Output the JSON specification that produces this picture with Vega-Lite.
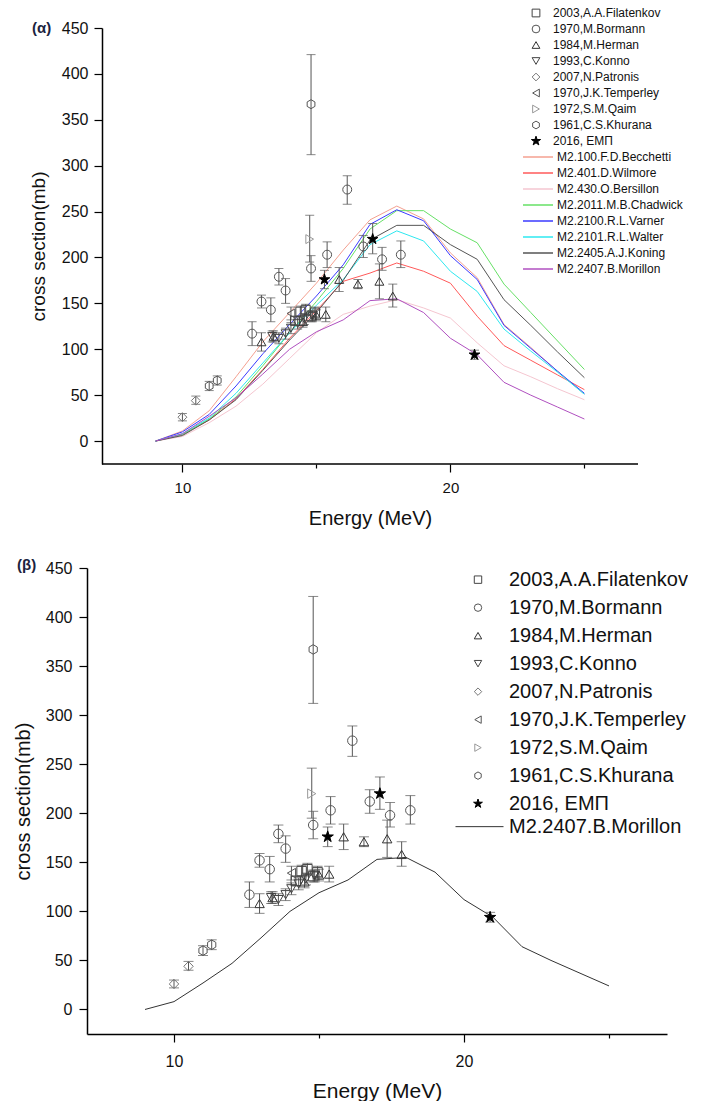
{
  "$schema": "https://vega.github.io/schema/vega-lite/v6.json",
  "padding": {"left": 13, "top": 5, "right": 0, "bottom": 0},
  "config": {
    "font": "Liberation Sans",
    "view": {"stroke": null},
    "axis": {"grid": false, "domainColor": "#000", "domainWidth": 1.5, "tickColor": "#000", "tickWidth": 1.2, "labelColor": "#111", "titleColor": "#111", "titleFontWeight": "normal"},
    "legend": {"padding": 0, "labelLimit": 0}
  },
  "resolve": {"scale": {"color": "independent", "shape": "independent", "fill": "independent", "stroke": "independent"}},
  "spacing": 30,
  "datasets": {
    "exp": [
      {"set": "2003,A.A.Filatenkov", "E": 14.2, "v": 131, "lo": 126, "hi": 136},
      {"set": "2003,A.A.Filatenkov", "E": 14.4, "v": 141, "lo": 135, "hi": 147},
      {"set": "2003,A.A.Filatenkov", "E": 14.6, "v": 143, "lo": 137, "hi": 149},
      {"set": "2003,A.A.Filatenkov", "E": 14.8, "v": 136, "lo": 130, "hi": 142},
      {"set": "2003,A.A.Filatenkov", "E": 14.95, "v": 140, "lo": 134, "hi": 146},
      {"set": "1970,M.Bormann", "E": 12.6, "v": 117, "lo": 104, "hi": 130},
      {"set": "1970,M.Bormann", "E": 12.95, "v": 152, "lo": 145, "hi": 159},
      {"set": "1970,M.Bormann", "E": 13.3, "v": 143, "lo": 130, "hi": 156},
      {"set": "1970,M.Bormann", "E": 13.6, "v": 179, "lo": 170, "hi": 188},
      {"set": "1970,M.Bormann", "E": 13.85, "v": 164, "lo": 150, "hi": 177},
      {"set": "1970,M.Bormann", "E": 14.8, "v": 188, "lo": 174, "hi": 202},
      {"set": "1970,M.Bormann", "E": 15.4, "v": 203, "lo": 189, "hi": 217},
      {"set": "1970,M.Bormann", "E": 16.15, "v": 274, "lo": 258, "hi": 289},
      {"set": "1970,M.Bormann", "E": 16.75, "v": 212, "lo": 200, "hi": 224},
      {"set": "1970,M.Bormann", "E": 17.45, "v": 198, "lo": 186, "hi": 211},
      {"set": "1970,M.Bormann", "E": 18.15, "v": 203, "lo": 189, "hi": 218},
      {"set": "1984,M.Herman", "E": 12.95, "v": 108, "lo": 98, "hi": 118},
      {"set": "1984,M.Herman", "E": 13.4, "v": 114, "lo": 108, "hi": 120},
      {"set": "1984,M.Herman", "E": 14.5, "v": 130, "lo": 124, "hi": 136},
      {"set": "1984,M.Herman", "E": 15.0, "v": 137, "lo": 131, "hi": 143},
      {"set": "1984,M.Herman", "E": 15.35, "v": 138, "lo": 130, "hi": 146},
      {"set": "1984,M.Herman", "E": 15.85, "v": 176, "lo": 163, "hi": 189},
      {"set": "1984,M.Herman", "E": 16.55, "v": 171, "lo": 166, "hi": 176},
      {"set": "1984,M.Herman", "E": 17.35, "v": 174, "lo": 155, "hi": 193},
      {"set": "1984,M.Herman", "E": 17.85, "v": 158, "lo": 146, "hi": 171},
      {"set": "1993,C.Konno", "E": 13.35, "v": 114, "lo": 108, "hi": 120},
      {"set": "1993,C.Konno", "E": 13.6, "v": 112, "lo": 106, "hi": 118},
      {"set": "1993,C.Konno", "E": 13.85, "v": 117, "lo": 111, "hi": 123},
      {"set": "1993,C.Konno", "E": 14.05, "v": 123, "lo": 117, "hi": 129},
      {"set": "1993,C.Konno", "E": 14.3, "v": 128, "lo": 122, "hi": 134},
      {"set": "1993,C.Konno", "E": 14.55, "v": 133, "lo": 127, "hi": 139},
      {"set": "1993,C.Konno", "E": 14.85, "v": 136, "lo": 130, "hi": 142},
      {"set": "2007,N.Patronis", "E": 10.0, "v": 26, "lo": 22, "hi": 30},
      {"set": "2007,N.Patronis", "E": 10.5, "v": 44, "lo": 40, "hi": 49},
      {"set": "1970,J.K.Temperley", "E": 14.05, "v": 139, "lo": 132, "hi": 146},
      {"set": "1972,S.M.Qaim", "E": 14.75, "v": 220, "lo": 195, "hi": 246},
      {"set": "1961,C.S.Khurana", "E": 11.0, "v": 60, "lo": 55, "hi": 65},
      {"set": "1961,C.S.Khurana", "E": 11.3, "v": 66, "lo": 61, "hi": 71},
      {"set": "1961,C.S.Khurana", "E": 14.8, "v": 367, "lo": 312, "hi": 421},
      {"set": "2016, ΕΜΠ", "E": 15.3, "v": 176, "lo": 166, "hi": 186},
      {"set": "2016, ΕΜΠ", "E": 17.1, "v": 220, "lo": 204, "hi": 237},
      {"set": "2016, ΕΜΠ", "E": 20.9, "v": 94, "lo": 89, "hi": 99}
    ],
    "model": [
      {"model": "M2.100.F.D.Becchetti", "E": 9, "v": 0}, {"model": "M2.100.F.D.Becchetti", "E": 10, "v": 11}, {"model": "M2.100.F.D.Becchetti", "E": 11, "v": 33}, {"model": "M2.100.F.D.Becchetti", "E": 12, "v": 70}, {"model": "M2.100.F.D.Becchetti", "E": 13, "v": 108}, {"model": "M2.100.F.D.Becchetti", "E": 14, "v": 140}, {"model": "M2.100.F.D.Becchetti", "E": 15, "v": 172}, {"model": "M2.100.F.D.Becchetti", "E": 16, "v": 208}, {"model": "M2.100.F.D.Becchetti", "E": 17, "v": 241}, {"model": "M2.100.F.D.Becchetti", "E": 18, "v": 256}, {"model": "M2.100.F.D.Becchetti", "E": 19, "v": 242}, {"model": "M2.100.F.D.Becchetti", "E": 20, "v": 205}, {"model": "M2.100.F.D.Becchetti", "E": 21, "v": 178}, {"model": "M2.100.F.D.Becchetti", "E": 22, "v": 127}, {"model": "M2.100.F.D.Becchetti", "E": 23, "v": 102}, {"model": "M2.100.F.D.Becchetti", "E": 24, "v": 76}, {"model": "M2.100.F.D.Becchetti", "E": 25, "v": 51},
      {"model": "M2.401.D.Wilmore", "E": 9, "v": 0}, {"model": "M2.401.D.Wilmore", "E": 10, "v": 7}, {"model": "M2.401.D.Wilmore", "E": 11, "v": 23}, {"model": "M2.401.D.Wilmore", "E": 12, "v": 46}, {"model": "M2.401.D.Wilmore", "E": 13, "v": 78}, {"model": "M2.401.D.Wilmore", "E": 14, "v": 112}, {"model": "M2.401.D.Wilmore", "E": 15, "v": 142}, {"model": "M2.401.D.Wilmore", "E": 16, "v": 174}, {"model": "M2.401.D.Wilmore", "E": 17, "v": 183}, {"model": "M2.401.D.Wilmore", "E": 18, "v": 194}, {"model": "M2.401.D.Wilmore", "E": 19, "v": 185}, {"model": "M2.401.D.Wilmore", "E": 20, "v": 172}, {"model": "M2.401.D.Wilmore", "E": 21, "v": 136}, {"model": "M2.401.D.Wilmore", "E": 22, "v": 104}, {"model": "M2.401.D.Wilmore", "E": 23, "v": 88}, {"model": "M2.401.D.Wilmore", "E": 24, "v": 72}, {"model": "M2.401.D.Wilmore", "E": 25, "v": 56},
      {"model": "M2.430.O.Bersillon", "E": 9, "v": 0}, {"model": "M2.430.O.Bersillon", "E": 10, "v": 5}, {"model": "M2.430.O.Bersillon", "E": 11, "v": 20}, {"model": "M2.430.O.Bersillon", "E": 12, "v": 38}, {"model": "M2.430.O.Bersillon", "E": 13, "v": 62}, {"model": "M2.430.O.Bersillon", "E": 14, "v": 90}, {"model": "M2.430.O.Bersillon", "E": 15, "v": 118}, {"model": "M2.430.O.Bersillon", "E": 16, "v": 138}, {"model": "M2.430.O.Bersillon", "E": 17, "v": 147}, {"model": "M2.430.O.Bersillon", "E": 18, "v": 154}, {"model": "M2.430.O.Bersillon", "E": 19, "v": 145}, {"model": "M2.430.O.Bersillon", "E": 20, "v": 134}, {"model": "M2.430.O.Bersillon", "E": 21, "v": 107}, {"model": "M2.430.O.Bersillon", "E": 22, "v": 82}, {"model": "M2.430.O.Bersillon", "E": 23, "v": 70}, {"model": "M2.430.O.Bersillon", "E": 24, "v": 57}, {"model": "M2.430.O.Bersillon", "E": 25, "v": 45},
      {"model": "M2.2011.M.B.Chadwick", "E": 9, "v": 0}, {"model": "M2.2011.M.B.Chadwick", "E": 10, "v": 7}, {"model": "M2.2011.M.B.Chadwick", "E": 11, "v": 24}, {"model": "M2.2011.M.B.Chadwick", "E": 12, "v": 48}, {"model": "M2.2011.M.B.Chadwick", "E": 13, "v": 82}, {"model": "M2.2011.M.B.Chadwick", "E": 14, "v": 118}, {"model": "M2.2011.M.B.Chadwick", "E": 15, "v": 152}, {"model": "M2.2011.M.B.Chadwick", "E": 16, "v": 188}, {"model": "M2.2011.M.B.Chadwick", "E": 17, "v": 231}, {"model": "M2.2011.M.B.Chadwick", "E": 18, "v": 251}, {"model": "M2.2011.M.B.Chadwick", "E": 19, "v": 251}, {"model": "M2.2011.M.B.Chadwick", "E": 20, "v": 231}, {"model": "M2.2011.M.B.Chadwick", "E": 21, "v": 216}, {"model": "M2.2011.M.B.Chadwick", "E": 22, "v": 171}, {"model": "M2.2011.M.B.Chadwick", "E": 23, "v": 140}, {"model": "M2.2011.M.B.Chadwick", "E": 24, "v": 109}, {"model": "M2.2011.M.B.Chadwick", "E": 25, "v": 78},
      {"model": "M2.2100.R.L.Varner", "E": 9, "v": 0}, {"model": "M2.2100.R.L.Varner", "E": 10, "v": 10}, {"model": "M2.2100.R.L.Varner", "E": 11, "v": 29}, {"model": "M2.2100.R.L.Varner", "E": 12, "v": 60}, {"model": "M2.2100.R.L.Varner", "E": 13, "v": 95}, {"model": "M2.2100.R.L.Varner", "E": 14, "v": 127}, {"model": "M2.2100.R.L.Varner", "E": 15, "v": 158}, {"model": "M2.2100.R.L.Varner", "E": 16, "v": 192}, {"model": "M2.2100.R.L.Varner", "E": 17, "v": 236}, {"model": "M2.2100.R.L.Varner", "E": 18, "v": 252}, {"model": "M2.2100.R.L.Varner", "E": 19, "v": 240}, {"model": "M2.2100.R.L.Varner", "E": 20, "v": 202}, {"model": "M2.2100.R.L.Varner", "E": 21, "v": 176}, {"model": "M2.2100.R.L.Varner", "E": 22, "v": 126}, {"model": "M2.2100.R.L.Varner", "E": 23, "v": 101}, {"model": "M2.2100.R.L.Varner", "E": 24, "v": 76}, {"model": "M2.2100.R.L.Varner", "E": 25, "v": 52},
      {"model": "M2.2101.R.L.Walter", "E": 9, "v": 0}, {"model": "M2.2101.R.L.Walter", "E": 10, "v": 8}, {"model": "M2.2101.R.L.Walter", "E": 11, "v": 25}, {"model": "M2.2101.R.L.Walter", "E": 12, "v": 52}, {"model": "M2.2101.R.L.Walter", "E": 13, "v": 85}, {"model": "M2.2101.R.L.Walter", "E": 14, "v": 118}, {"model": "M2.2101.R.L.Walter", "E": 15, "v": 148}, {"model": "M2.2101.R.L.Walter", "E": 16, "v": 176}, {"model": "M2.2101.R.L.Walter", "E": 17, "v": 214}, {"model": "M2.2101.R.L.Walter", "E": 18, "v": 229}, {"model": "M2.2101.R.L.Walter", "E": 19, "v": 218}, {"model": "M2.2101.R.L.Walter", "E": 20, "v": 185}, {"model": "M2.2101.R.L.Walter", "E": 21, "v": 163}, {"model": "M2.2101.R.L.Walter", "E": 22, "v": 122}, {"model": "M2.2101.R.L.Walter", "E": 23, "v": 98}, {"model": "M2.2101.R.L.Walter", "E": 24, "v": 75}, {"model": "M2.2101.R.L.Walter", "E": 25, "v": 51},
      {"model": "M2.2405.A.J.Koning", "E": 9, "v": 0}, {"model": "M2.2405.A.J.Koning", "E": 10, "v": 6}, {"model": "M2.2405.A.J.Koning", "E": 11, "v": 23}, {"model": "M2.2405.A.J.Koning", "E": 12, "v": 45}, {"model": "M2.2405.A.J.Koning", "E": 13, "v": 77}, {"model": "M2.2405.A.J.Koning", "E": 14, "v": 110}, {"model": "M2.2405.A.J.Koning", "E": 15, "v": 140}, {"model": "M2.2405.A.J.Koning", "E": 16, "v": 175}, {"model": "M2.2405.A.J.Koning", "E": 17, "v": 219}, {"model": "M2.2405.A.J.Koning", "E": 18, "v": 235}, {"model": "M2.2405.A.J.Koning", "E": 19, "v": 235}, {"model": "M2.2405.A.J.Koning", "E": 20, "v": 214}, {"model": "M2.2405.A.J.Koning", "E": 21, "v": 198}, {"model": "M2.2405.A.J.Koning", "E": 22, "v": 154}, {"model": "M2.2405.A.J.Koning", "E": 23, "v": 126}, {"model": "M2.2405.A.J.Koning", "E": 24, "v": 97}, {"model": "M2.2405.A.J.Koning", "E": 25, "v": 69},
      {"model": "M2.2407.B.Morillon", "E": 9, "v": 0}, {"model": "M2.2407.B.Morillon", "E": 10, "v": 8}, {"model": "M2.2407.B.Morillon", "E": 11, "v": 27}, {"model": "M2.2407.B.Morillon", "E": 12, "v": 47}, {"model": "M2.2407.B.Morillon", "E": 13, "v": 73}, {"model": "M2.2407.B.Morillon", "E": 14, "v": 100}, {"model": "M2.2407.B.Morillon", "E": 15, "v": 119}, {"model": "M2.2407.B.Morillon", "E": 16, "v": 132}, {"model": "M2.2407.B.Morillon", "E": 17, "v": 153}, {"model": "M2.2407.B.Morillon", "E": 18, "v": 155}, {"model": "M2.2407.B.Morillon", "E": 19, "v": 140}, {"model": "M2.2407.B.Morillon", "E": 20, "v": 112}, {"model": "M2.2407.B.Morillon", "E": 21, "v": 94}, {"model": "M2.2407.B.Morillon", "E": 22, "v": 64}, {"model": "M2.2407.B.Morillon", "E": 23, "v": 50}, {"model": "M2.2407.B.Morillon", "E": 24, "v": 37}, {"model": "M2.2407.B.Morillon", "E": 25, "v": 24}
    ],
    "frame": [{"E": 7, "E2": 27, "v": -25}]
  },
  "vconcat": [
    {
      "width": 551,
      "height": 436,
      "title": {"text": "(α)", "anchor": "start", "frame": "group", "dx": -55, "dy": 35, "offset": 4, "fontSize": 15, "fontWeight": "bold", "color": "#1b2340"},
      "layer": [
        {
          "data": {"name": "model"},
          "mark": {"type": "line", "strokeWidth": 1},
          "encoding": {
            "x": {"field": "E", "type": "quantitative", "title": "Energy (MeV)", "scale": {"domain": [6.44, 27], "nice": false, "zero": false},
              "axis": {"values": [10, 15, 20, 25], "labelExpr": "datum.value % 10 === 0 ? datum.label : ''", "tickSize": {"condition": {"test": "datum.value % 10 === 0", "value": 8}, "value": 4}, "domain": false, "labelFontSize": 15, "labelPadding": 8, "titleFontSize": 20, "titlePadding": 13, "titleX": 283}},
            "y": {"field": "v", "type": "quantitative", "title": "cross section(mb)", "scale": {"domain": [-25, 450], "nice": false, "zero": false},
              "axis": {"values": [0, 25, 50, 75, 100, 125, 150, 175, 200, 225, 250, 275, 300, 325, 350, 375, 400, 425, 450], "labelExpr": "datum.value % 50 === 0 ? datum.label : ''", "tickSize": {"condition": {"test": "datum.value % 50 === 0", "value": 8}, "value": 4}, "offset": -15, "labelFontSize": 16, "labelPadding": 6, "titleFontSize": 19, "titlePadding": 13}},
            "color": {"field": "model", "type": "nominal",
              "scale": {"domain": ["M2.100.F.D.Becchetti", "M2.401.D.Wilmore", "M2.430.O.Bersillon", "M2.2011.M.B.Chadwick", "M2.2100.R.L.Varner", "M2.2101.R.L.Walter", "M2.2405.A.J.Koning", "M2.2407.B.Morillon"],
                "range": ["#f4a090", "#ff5a5a", "#f5c6d0", "#66e066", "#3a3aff", "#2ee8f0", "#555555", "#b050c0"]},
              "legend": {"orient": "none", "legendX": 435, "legendY": 121, "title": null, "symbolType": "stroke", "symbolSize": 900, "symbolStrokeWidth": 1.5, "labelFontSize": 12, "labelOffset": 3, "clipHeight": 16, "rowPadding": 0, "labelColor": "#111"}}
          }
        },
        {
          "data": {"name": "frame"},
          "mark": {"type": "rule", "color": "#000", "strokeWidth": 1.5},
          "encoding": {
            "x": {"field": "E", "type": "quantitative", "title": "Energy (MeV)"},
            "x2": {"field": "E2"},
            "y": {"field": "v", "type": "quantitative", "title": "cross section(mb)"}
          }
        },
        {
          "data": {"name": "exp"},
          "mark": {"type": "rule", "strokeWidth": 1, "color": "#555555"},
          "encoding": {
            "x": {"field": "E", "type": "quantitative", "title": "Energy (MeV)"},
            "y": {"field": "lo", "type": "quantitative", "title": "cross section(mb)"},
            "y2": {"field": "hi"}
          }
        },
        {
          "data": {"name": "exp"},
          "mark": {"type": "tick", "orient": "horizontal", "size": 9, "thickness": 1, "color": "#555555"},
          "encoding": {
            "x": {"field": "E", "type": "quantitative", "title": "Energy (MeV)"},
            "y": {"field": "hi", "type": "quantitative", "title": "cross section(mb)"}
          }
        },
        {
          "data": {"name": "exp"},
          "mark": {"type": "tick", "orient": "horizontal", "size": 9, "thickness": 1, "color": "#555555"},
          "encoding": {
            "x": {"field": "E", "type": "quantitative", "title": "Energy (MeV)"},
            "y": {"field": "lo", "type": "quantitative", "title": "cross section(mb)"}
          }
        },
        {
          "data": {"name": "exp"},
          "mark": {"type": "point", "filled": true, "size": 80, "strokeWidth": 1, "opacity": 1},
          "encoding": {
            "x": {"field": "E", "type": "quantitative", "title": "Energy (MeV)"},
            "y": {"field": "v", "type": "quantitative", "title": "cross section(mb)"},
            "shape": {"field": "set", "type": "nominal",
              "scale": {"domain": ["2003,A.A.Filatenkov", "1970,M.Bormann", "1984,M.Herman", "1993,C.Konno", "2007,N.Patronis", "1970,J.K.Temperley", "1972,S.M.Qaim", "1961,C.S.Khurana", "2016, ΕΜΠ"],
                "range": ["square", "circle", "triangle-up", "triangle-down", "diamond", "triangle-left", "triangle-right", "M0,-1L0.866,-0.5L0.866,0.5L0,1L-0.866,0.5L-0.866,-0.5Z", "M0,-1.25L0.28,-0.386L1.19,-0.386L0.454,0.148L0.735,1.011L0,0.478L-0.735,1.011L-0.454,0.148L-1.19,-0.386L-0.28,-0.386Z"]},
              "legend": {"orient": "none", "legendX": 443, "legendY": -23, "title": null, "symbolSize": 60, "symbolStrokeWidth": 1, "labelFontSize": 12, "labelOffset": 11, "clipHeight": 16, "rowPadding": 0, "labelColor": "#111"}},
            "fill": {"field": "set", "type": "nominal",
              "scale": {"domain": ["2003,A.A.Filatenkov", "1970,M.Bormann", "1984,M.Herman", "1993,C.Konno", "2007,N.Patronis", "1970,J.K.Temperley", "1972,S.M.Qaim", "1961,C.S.Khurana", "2016, ΕΜΠ"],
                "range": ["transparent", "transparent", "transparent", "transparent", "transparent", "transparent", "transparent", "transparent", "#000000"]},
              "legend": {"orient": "none", "legendX": 443, "legendY": -23, "title": null, "symbolSize": 60, "symbolStrokeWidth": 1, "labelFontSize": 12, "labelOffset": 11, "clipHeight": 16, "rowPadding": 0, "labelColor": "#111"}},
            "stroke": {"field": "set", "type": "nominal",
              "scale": {"domain": ["2003,A.A.Filatenkov", "1970,M.Bormann", "1984,M.Herman", "1993,C.Konno", "2007,N.Patronis", "1970,J.K.Temperley", "1972,S.M.Qaim", "1961,C.S.Khurana", "2016, ΕΜΠ"],
                "range": ["#444444", "#555555", "#333333", "#444444", "#777777", "#555555", "#999999", "#555555", "#000000"]},
              "legend": {"orient": "none", "legendX": 443, "legendY": -23, "title": null, "symbolSize": 60, "symbolStrokeWidth": 1, "labelFontSize": 12, "labelOffset": 11, "clipHeight": 16, "rowPadding": 0, "labelColor": "#111"}}
          }
        }
      ]
    },
    {
      "width": 580,
      "height": 466,
      "title": {"text": "(β)", "anchor": "start", "frame": "group", "dx": -70, "dy": 17, "offset": 4, "fontSize": 15, "fontWeight": "bold", "color": "#1b2340"},
      "layer": [
        {
          "data": {"name": "model"},
          "transform": [{"filter": "datum.model === 'M2.2407.B.Morillon'"}],
          "mark": {"type": "line", "strokeWidth": 1},
          "encoding": {
            "x": {"field": "E", "type": "quantitative", "title": "Energy (MeV)", "scale": {"domain": [7, 27], "nice": false, "zero": false},
              "axis": {"values": [10, 15, 20, 25], "labelExpr": "datum.value % 10 === 0 ? datum.label : ''", "tickSize": {"condition": {"test": "datum.value % 10 === 0", "value": 8}, "value": 4}, "labelFontSize": 16, "labelPadding": 11, "titleFontSize": 21, "titlePadding": 11}},
            "y": {"field": "v", "type": "quantitative", "title": "cross section(mb)", "scale": {"domain": [-25, 450], "nice": false, "zero": false},
              "axis": {"values": [0, 25, 50, 75, 100, 125, 150, 175, 200, 225, 250, 275, 300, 325, 350, 375, 400, 425, 450], "labelExpr": "datum.value % 50 === 0 ? datum.label : ''", "tickSize": {"condition": {"test": "datum.value % 50 === 0", "value": 8}, "value": 4}, "labelFontSize": 16, "labelPadding": 7, "titleFontSize": 20, "titlePadding": 12}},
            "color": {"field": "model", "type": "nominal",
              "scale": {"domain": ["M2.2407.B.Morillon"], "range": ["#333333"]},
              "legend": {"orient": "none", "legendX": 368, "legendY": 245, "title": null, "symbolType": "stroke", "symbolSize": 2304, "symbolStrokeWidth": 1, "labelFontSize": 20, "labelOffset": 5, "clipHeight": 27.3, "rowPadding": 0, "labelColor": "#111"}}
          }
        },
        {
          "data": {"name": "exp"},
          "mark": {"type": "rule", "strokeWidth": 1, "color": "#555555"},
          "encoding": {
            "x": {"field": "E", "type": "quantitative", "title": "Energy (MeV)"},
            "y": {"field": "lo", "type": "quantitative", "title": "cross section(mb)"},
            "y2": {"field": "hi"}
          }
        },
        {
          "data": {"name": "exp"},
          "mark": {"type": "tick", "orient": "horizontal", "size": 10, "thickness": 1, "color": "#555555"},
          "encoding": {
            "x": {"field": "E", "type": "quantitative", "title": "Energy (MeV)"},
            "y": {"field": "hi", "type": "quantitative", "title": "cross section(mb)"}
          }
        },
        {
          "data": {"name": "exp"},
          "mark": {"type": "tick", "orient": "horizontal", "size": 10, "thickness": 1, "color": "#555555"},
          "encoding": {
            "x": {"field": "E", "type": "quantitative", "title": "Energy (MeV)"},
            "y": {"field": "lo", "type": "quantitative", "title": "cross section(mb)"}
          }
        },
        {
          "data": {"name": "exp"},
          "mark": {"type": "point", "filled": true, "size": 90, "strokeWidth": 1, "opacity": 1},
          "encoding": {
            "x": {"field": "E", "type": "quantitative", "title": "Energy (MeV)"},
            "y": {"field": "v", "type": "quantitative", "title": "cross section(mb)"},
            "shape": {"field": "set", "type": "nominal",
              "scale": {"domain": ["2003,A.A.Filatenkov", "1970,M.Bormann", "1984,M.Herman", "1993,C.Konno", "2007,N.Patronis", "1970,J.K.Temperley", "1972,S.M.Qaim", "1961,C.S.Khurana", "2016, ΕΜΠ"],
                "range": ["square", "circle", "triangle-up", "triangle-down", "diamond", "triangle-left", "triangle-right", "M0,-1L0.866,-0.5L0.866,0.5L0,1L-0.866,0.5L-0.866,-0.5Z", "M0,-1.25L0.28,-0.386L1.19,-0.386L0.454,0.148L0.735,1.011L0,0.478L-0.735,1.011L-0.454,0.148L-1.19,-0.386L-0.28,-0.386Z"]},
              "legend": {"orient": "none", "legendX": 381, "legendY": -2, "title": null, "symbolSize": 55, "symbolStrokeWidth": 1, "labelFontSize": 20, "labelOffset": 21, "clipHeight": 27.3, "rowPadding": 0, "labelColor": "#111"}},
            "fill": {"field": "set", "type": "nominal",
              "scale": {"domain": ["2003,A.A.Filatenkov", "1970,M.Bormann", "1984,M.Herman", "1993,C.Konno", "2007,N.Patronis", "1970,J.K.Temperley", "1972,S.M.Qaim", "1961,C.S.Khurana", "2016, ΕΜΠ"],
                "range": ["transparent", "transparent", "transparent", "transparent", "transparent", "transparent", "transparent", "transparent", "#000000"]},
              "legend": {"orient": "none", "legendX": 381, "legendY": -2, "title": null, "symbolSize": 55, "symbolStrokeWidth": 1, "labelFontSize": 20, "labelOffset": 21, "clipHeight": 27.3, "rowPadding": 0, "labelColor": "#111"}},
            "stroke": {"field": "set", "type": "nominal",
              "scale": {"domain": ["2003,A.A.Filatenkov", "1970,M.Bormann", "1984,M.Herman", "1993,C.Konno", "2007,N.Patronis", "1970,J.K.Temperley", "1972,S.M.Qaim", "1961,C.S.Khurana", "2016, ΕΜΠ"],
                "range": ["#444444", "#555555", "#333333", "#444444", "#777777", "#555555", "#999999", "#555555", "#000000"]},
              "legend": {"orient": "none", "legendX": 381, "legendY": -2, "title": null, "symbolSize": 55, "symbolStrokeWidth": 1, "labelFontSize": 20, "labelOffset": 21, "clipHeight": 27.3, "rowPadding": 0, "labelColor": "#111"}}
          }
        }
      ]
    }
  ]
}
